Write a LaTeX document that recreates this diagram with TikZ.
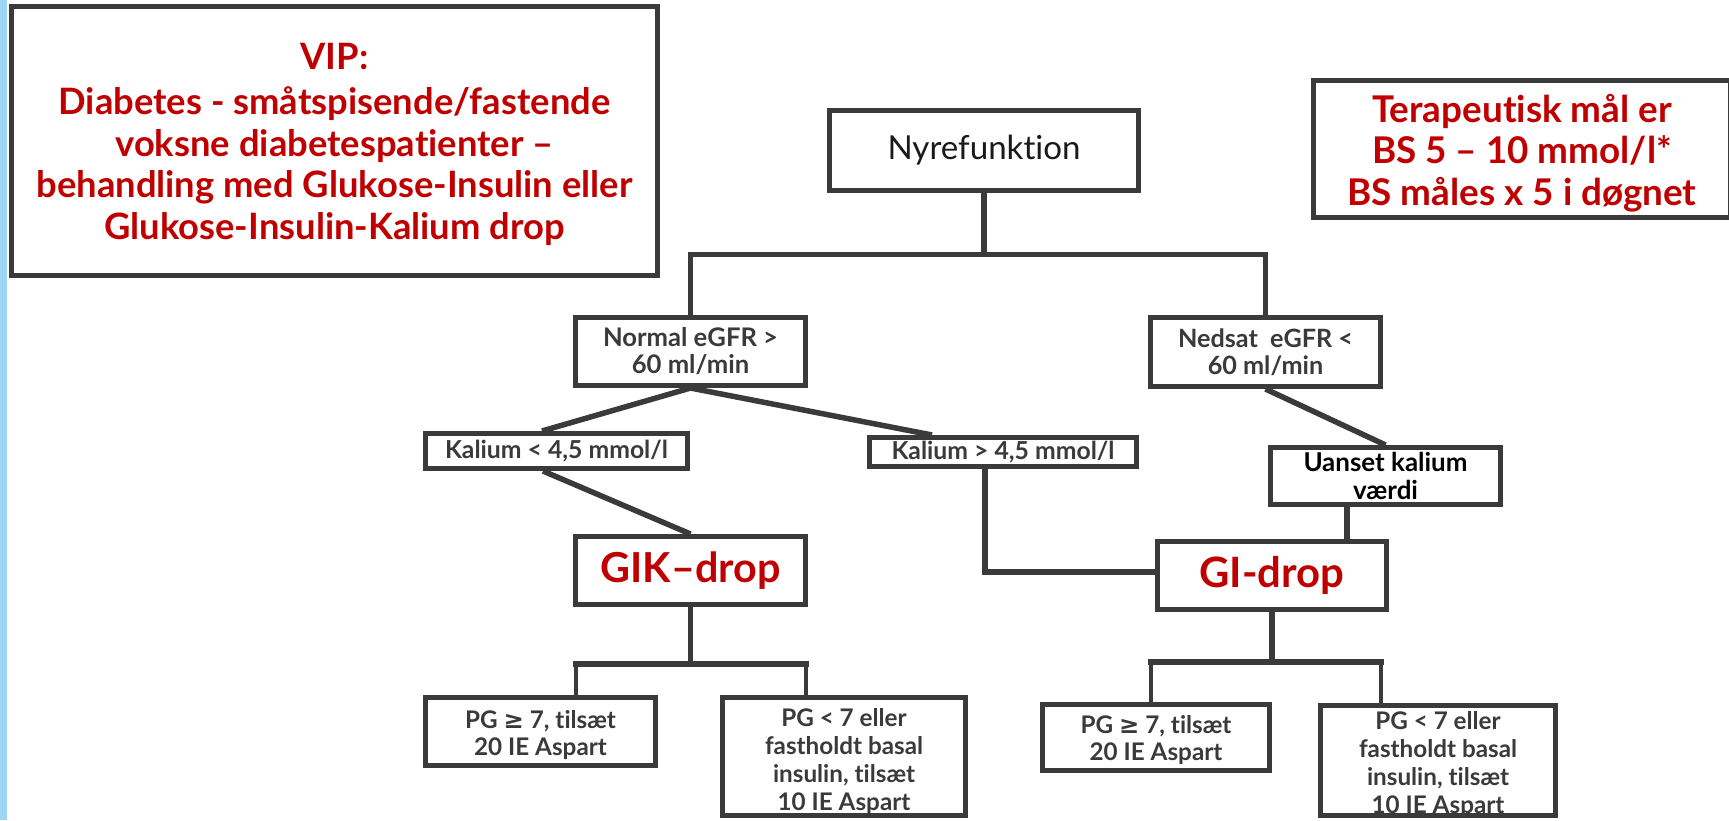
\documentclass[tikz,border=0pt]{standalone}
\usepackage{fontspec}
\setmainfont{Lato}[Ligatures={NoCommon,NoRequired,NoContextual}]
\newfontfamily\symfont{DejaVu Sans}
\usetikzlibrary{calc}
\definecolor{vipred}{HTML}{C00000}
\definecolor{ink}{HTML}{3A3A3A}
\definecolor{stripblue}{HTML}{9ED5F5}
\pgfdeclarelayer{back}
\pgfdeclarelayer{bg}
\pgfsetlayers{back,bg,main}
\newcommand{\gesym}{{\symfont\char"2265}}
\newlength\fitw
% #1 macro, #2 font switch, #3 target width (px), #4 sample line
\newcommand\fitset[4]{\settowidth\fitw{\fontsize{10}{12}\selectfont#2#4}\pgfmathsetmacro#1{10*#3/\fitw}}
\begin{document}
\fitset\szVip{\bfseries}{596}{behandling med Glukose-Insulin eller}%
\fitset\szTer{\bfseries}{349}{BS måles x 5 i døgnet}%
\fitset\szNyre{\mdseries}{193}{Nyrefunktion}%
\fitset\szNorm{\bfseries}{175}{Normal eGFR >}%
\fitset\szNed{\bfseries}{175}{Nedsat\ \ eGFR <}%
\fitset\szKal{\bfseries}{223}{Kalium < 4,5 mmol/l}%
\fitset\szUan{\bfseries}{164}{Uanset kalium}%
\fitset\szGik{\bfseries}{180}{GIK–drop}%
\fitset\szGi{\bfseries}{145}{GI-drop}%
\fitset\szPg{\bfseries}{158}{fastholdt basal}%
\begin{tikzpicture}[x=1pt,y=-1pt,
  box/.style={draw=ink, line width=5pt, fill=white, inner sep=0pt, align=center, text=ink},
  inbox/.style={inner sep=0pt, align=center, text=ink},
  redtext/.style={inbox, text=vipred},
  pgtext/.style={inbox, font=\bfseries\fontsize{\szPg}{27}\selectfont},
  pgtextlong/.style={inbox, font=\bfseries\fontsize{\szPg}{28}\selectfont},
  conn/.style={draw=ink, line width=5.5pt},
  thinconn/.style={draw=ink, line width=4pt},
]
\useasboundingbox (0,0) rectangle (1729,820);
\clip (0,0) rectangle (1729,820);
\begin{pgfonlayer}{back}
\fill[white] (0,0) rectangle (1729,820);
\fill[stripblue] (0,0) rectangle (6.5,820);
\end{pgfonlayer}

% title boxes
\node[box, minimum width=646, minimum height=269,
      label={[redtext, font=\bfseries\fontsize{\szVip}{41.5}\selectfont, yshift=-3pt]center:{VIP:\\[4pt]Diabetes - småtspisende/fastende\\voksne diabetespatienter –\\behandling med Glukose-Insulin eller\\Glukose-Insulin-Kalium drop}}]
  (vip) at (334.5,141) {};
\node[box, minimum width=417, minimum height=137,
      label={[redtext, font=\bfseries\fontsize{\szTer}{41.5}\selectfont, yshift=-4pt]center:{Terapeutisk mål er\\BS 5 – 10 mmol/l*\\BS måles x 5 i døgnet}}]
  (terap) at (1522,149) {};

% tree
\node[box, text=black!90, font=\fontsize{\szNyre}{36}\selectfont,
      minimum width=309, minimum height=80] (nyre) at (984,150.5) {Nyrefunktion};
\node[box, font=\bfseries\fontsize{\szNorm}{27}\selectfont,
      minimum width=230, minimum height=68] (normal) at (690.5,351.5) {Normal eGFR >\\60 ml/min};
\node[box, font=\bfseries\fontsize{\szNed}{27}\selectfont,
      minimum width=230, minimum height=69] (nedsat) at (1265.5,352) {Nedsat\ \ eGFR <\\60 ml/min};
\node[box, font=\bfseries\fontsize{\szKal}{27}\selectfont,
      minimum width=262, minimum height=35] (kal1) at (556.5,451) {Kalium < 4,5 mmol/l};
\node[box, font=\bfseries\fontsize{\szKal}{27}\selectfont,
      minimum width=267, minimum height=29] (kal2) at (1003,452) {Kalium > 4,5 mmol/l};
\node[box, text=black, font=\bfseries\fontsize{\szUan}{28}\selectfont,
      minimum width=230, minimum height=57] (uanset) at (1385.5,476) {Uanset kalium\\værdi};
\node[box, text=vipred, font=\bfseries\fontsize{\szGik}{50}\selectfont,
      minimum width=230, minimum height=68] (gik) at (690.5,570.5) {GIK–drop};
\node[box, text=vipred, font=\bfseries\fontsize{\szGi}{50}\selectfont,
      minimum width=229, minimum height=68] (gi) at (1272,575.5) {GI-drop};
\node[box, minimum width=230, minimum height=68,
      label={[pgtext, yshift=-4pt]center:{PG \gesym\ 7, tilsæt\\20 IE Aspart}}] (pg1) at (540.5,731.5) {};
\node[box, minimum width=243, minimum height=118,
      label={[pgtextlong, yshift=-5pt]center:{PG < 7 eller\\fastholdt basal\\insulin, tilsæt\\10 IE Aspart}}] (pg2) at (844,756.5) {};
\node[box, minimum width=227, minimum height=66,
      label={[pgtext, yshift=-3pt]center:{PG \gesym\ 7, tilsæt\\20 IE Aspart}}] (pg3) at (1156,737.5) {};
\node[box, minimum width=235, minimum height=110,
      label={[pgtextlong, yshift=-4pt]center:{PG < 7 eller\\fastholdt basal\\insulin, tilsæt\\10 IE Aspart}}] (pg4) at (1438,760.5) {};

% connector points
\coordinate (b1L) at (690.5,254.5);
\coordinate (b1R) at (1265.5,254.5);
\coordinate (k1top) at (542,0 |- kal1.north);
\coordinate (k1bot) at (543,0 |- kal1.south);
\coordinate (k2top) at (932,0 |- kal2.north);
\coordinate (k2bot) at (985,0 |- kal2.south);
\coordinate (k2corner) at (985,572);
\coordinate (uabot) at (1347,0 |- uanset.south);
\coordinate (b2L) at (575.5,664);
\coordinate (b2R) at (806,664);
\coordinate (b3L) at (1151,662);
\coordinate (b3R) at (1381,662);

\begin{pgfonlayer}{bg}
\draw[conn] (nyre.south) -- (nyre.south |- b1L);
\draw[conn, line cap=rect] (b1L) -- (b1R);
\draw[conn] (b1L) -- (b1L |- normal.north);
\draw[conn] (b1R) -- (b1R |- nedsat.north);
\draw[conn] (normal.south) -- (k1top);
\draw[conn] (normal.south) -- (k2top);
\draw[conn] (k1bot) -- (gik.north);
\draw[conn] (k2bot) -- (k2corner) -- (k2corner -| gi.west);
\draw[conn] (nedsat.south) -- (uanset.north);
\draw[conn] (uabot) -- (uabot |- gi.north);
\draw[conn] (gik.south) -- (gik.south |- b2L);
\draw[conn, line cap=rect] (b2L) -- (b2R);
\draw[thinconn] (b2L) -- (b2L |- pg1.north);
\draw[thinconn] (b2R) -- (b2R |- pg2.north);
\draw[conn] (gi.south) -- (gi.south |- b3L);
\draw[conn, line cap=rect] (b3L) -- (b3R);
\draw[thinconn] (b3L) -- (b3L |- pg3.north);
\draw[thinconn] (b3R) -- (b3R |- pg4.north);
\end{pgfonlayer}
\end{tikzpicture}
\end{document}
